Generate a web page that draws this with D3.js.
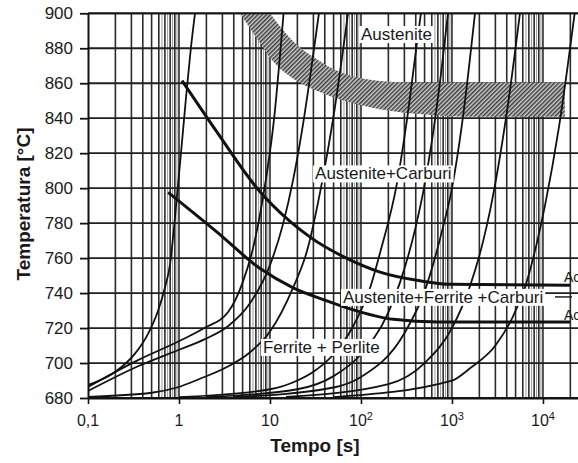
<!DOCTYPE html>
<html>
<head>
<meta charset="utf-8">
<script src="https://cdn.jsdelivr.net/npm/d3@7"></script>
<style>
body { margin: 0; background: #fff; }
text { font-family: "Liberation Sans", Arial, sans-serif; fill: #1a1a1a; }
</style>
</head>
<body>
<svg id="chart"></svg>
<script>
// values: time [s], temperature [°C]
var tempTicks = [680, 700, 720, 740, 760, 780, 800, 820, 840, 860, 880, 900];
var timeTicks = [0.1, 1, 10, 100, 1000, 10000];
var timeTickBase = ["0,1", "1", "10", "10", "10", "10"];
var timeTickExp = ["", "", "", "2", "3", "4"];

// heating curves (time, temperature)
var heat1 = [[0.1, 687.4], [0.2, 695], [0.33, 705.5], [0.46, 717], [0.59, 730], [0.7, 743], [0.8, 757], [0.88, 777], [0.96, 798], [1.06, 822], [1.2, 853], [1.35, 880], [1.5, 900]];
var heat2 = [[0.1, 686.3], [0.35, 701.5], [1.05, 713], [1.9, 720], [3.45, 729], [5, 746], [6.6, 767], [8.4, 795], [11, 838], [14.1, 900]];
var heat3 = [[0.1, 684], [0.35, 698], [1.05, 708], [1.9, 713.5], [3.45, 721], [6, 734], [10, 756], [14, 780], [18, 805], [22.5, 833], [28, 866], [34.5, 900]];
var heat4 = [[0.1, 680.7], [0.5, 683], [0.95, 686], [1.7, 691], [3.45, 698], [6, 706], [10, 718], [17.9, 743], [25.5, 764], [37.2, 803], [49.2, 839], [72, 900]];
var heat5 = [[1, 680.5], [10, 685], [20, 690], [30, 695], [50, 705], [80, 720], [126, 743], [162, 763], [249, 803], [320, 839], [412, 883], [456, 900]];
var heat6 = [[2, 680.5], [20, 685], [50, 692.5], [100, 705], [200, 729], [268, 746], [400, 778], [492, 800], [618, 831], [760, 866], [904, 900]];
var heat7 = [[4, 680.5], [50, 686], [100, 692], [300, 717], [500, 741], [800, 778], [975, 797], [1300, 838], [1791, 900]];
var heat8 = [[15, 680.6], [200, 688], [500, 700], [1000, 720], [1578, 744], [2208, 770], [2618, 787], [4000, 843], [5585, 900]];
var heat9 = [[50, 680.5], [1000, 690], [1578, 697], [3000, 710], [4720, 727], [6500, 745], [8510, 768], [10520, 790], [15000, 835], [22300, 900]];

// Ac3 and Ac1 boundaries
var ac3Curve = [[1.08, 861.5], [2.62, 832], [7.2, 800], [16.6, 781], [27.6, 772], [75.7, 759], [162, 752], [445, 747], [951, 745], [19800, 744.5]];
var ac1Curve = [[0.76, 797.6], [2.6, 775], [7.8, 754], [18, 743], [40, 736], [76, 731], [226, 725], [700, 723.5], [19800, 723.5]];

// hatched band: upper (right) edge and lower (left) edge
var bandUpper = [[10.0, 900], [17.4, 884.7], [33.7, 873.3], [58.7, 866.4], [125.6, 862], [345, 860.4], [17400, 860.4]];
var bandLower = [[4.68, 900], [7.38, 884.7], [10.5, 873.3], [18.8, 862], [35.4, 855], [66.7, 849.8], [161.8, 845.2], [445, 842.4], [1578, 840.9], [17400, 840.9]];

var phaseNames = ["Austenite", "Austenite+Carburi", "Austenite+Ferrite +Carburi", "Ferrite + Perlite"];

var width = 578;
var height = 463;
var plotLeft = 88, plotRight = 578, plotTop = 13.3, plotBottom = 398;

var xScale = d3.scaleLog().domain([0.1, 24270]).range([plotLeft, plotRight]);
var yScale = d3.scaleLinear().domain([680, 900]).range([plotBottom, plotTop]);

var svg = d3.select("#chart")
  .attr("width", width)
  .attr("height", height);

svg.append("rect").attr("width", width).attr("height", height).attr("fill", "#fff");

var defs = svg.append("defs");
defs.append("clipPath").attr("id", "plotClip")
  .append("rect")
  .attr("x", plotLeft).attr("y", plotTop)
  .attr("width", plotRight - plotLeft).attr("height", plotBottom - plotTop);

// hatch for the band
var hatch = defs.append("pattern")
  .attr("id", "hatch")
  .attr("width", 3).attr("height", 3)
  .attr("patternUnits", "userSpaceOnUse")
  .attr("patternTransform", "rotate(45)");
hatch.append("rect").attr("width", 3).attr("height", 3).attr("fill", "#d0d0d0");
hatch.append("line")
  .attr("x1", 0.75).attr("y1", 0).attr("x2", 0.75).attr("y2", 3)
  .attr("stroke", "#3a3a3a").attr("stroke-width", 1.5);

var plot = svg.append("g").attr("clip-path", "url(#plotClip)");

// vertical grid, 1..9 per decade
plot.selectAll(".vgrid")
  .data(xScale.ticks())
  .enter().append("line")
  .attr("class", "vgrid")
  .attr("x1", function(d) { return xScale(d); })
  .attr("x2", function(d) { return xScale(d); })
  .attr("y1", plotTop).attr("y2", plotBottom)
  .attr("stroke", "#2b2b2b")
  .attr("stroke-width", 1.6);

// the scan shows extra faint lines just before each decade
var faint = [];
timeTicks.forEach(function(d) {
  [0.65, 0.75, 0.85, 0.95].forEach(function(m) { faint.push(d * 10 * m); });
});
plot.selectAll(".fgrid")
  .data(faint)
  .enter().append("line")
  .attr("class", "fgrid")
  .attr("x1", function(d) { return xScale(d); })
  .attr("x2", function(d) { return xScale(d); })
  .attr("y1", plotTop).attr("y2", plotBottom)
  .attr("stroke", "#9a9a9a")
  .attr("stroke-width", 1);

// horizontal grid
plot.selectAll(".hgrid")
  .data(tempTicks)
  .enter().append("line")
  .attr("class", "hgrid")
  .attr("x1", plotLeft).attr("x2", plotRight)
  .attr("y1", function(d) { return yScale(d); })
  .attr("y2", function(d) { return yScale(d); })
  .attr("stroke", "#1f1f1f")
  .attr("stroke-width", 1.8);

// hatched band
var bandLine = d3.line()
  .x(function(d) { return xScale(d[0]); })
  .y(function(d) { return yScale(d[1]); })
  .curve(d3.curveMonotoneX);
var upperPath = bandLine(bandUpper);
var lowerPath = bandLine(bandLower.slice().reverse());
plot.append("path")
  .attr("d", upperPath + "L" + lowerPath.slice(1) + "Z")
  .attr("fill", "url(#hatch)")
  .attr("stroke", "none");

var curveLine = d3.line()
  .x(function(d) { return xScale(d[0]); })
  .y(function(d) { return yScale(d[1]); })
  .curve(d3.curveMonotoneX);

// heating curves
plot.selectAll(".heat")
  .data([heat1, heat2, heat3, heat4, heat5, heat6, heat7, heat8, heat9])
  .enter().append("path")
  .attr("class", "heat")
  .attr("d", curveLine)
  .attr("fill", "none")
  .attr("stroke", "#111")
  .attr("stroke-width", 1.8);

// Ac lines
plot.selectAll(".ac")
  .data([ac3Curve, ac1Curve])
  .enter().append("path")
  .attr("class", "ac")
  .attr("d", curveLine)
  .attr("fill", "none")
  .attr("stroke", "#111")
  .attr("stroke-width", 3);

// small leader next to Carburi
plot.append("line")
  .attr("x1", xScale(13550)).attr("x2", xScale(20850))
  .attr("y1", yScale(737.8)).attr("y2", yScale(737.8))
  .attr("stroke", "#222").attr("stroke-width", 1.5);

// phase labels on white boxes
function addLabel(txt, t, T) {
  var g = svg.append("g");
  var el = g.append("text")
    .attr("x", xScale(t))
    .attr("y", yScale(T))
    .style("font-size", "17px")
    .text(txt);
  var bb = el.node().getBBox();
  g.insert("rect", "text")
    .attr("x", bb.x - 2).attr("y", bb.y + 1)
    .attr("width", bb.width + 4).attr("height", bb.height - 2)
    .attr("fill", "#fff");
}
addLabel(phaseNames[0], 100, 884.7);
addLabel(phaseNames[1], 31.3, 805);
addLabel(phaseNames[2], 63.4, 734.4);
addLabel(phaseNames[3], 8.37, 705.8);

// Ac labels (cut at the edge, as in the scan)
var acNames = [["Ac", "3", 746.4], ["Ac", "1", 724.5]];
acNames.forEach(function(a) {
  var tx = svg.append("text")
    .attr("x", 564).attr("y", yScale(a[2]))
    .style("font-size", "14px")
    .text(a[0]);
  tx.append("tspan").attr("dy", 3).style("font-size", "10px").text(a[1]);
});

// frame line on top
svg.append("line").attr("x1", plotLeft).attr("x2", plotRight).attr("y1", plotTop).attr("y2", plotTop)
  .attr("stroke", "#111").attr("stroke-width", 2);

// y axis
var yAxis = svg.append("g")
  .attr("transform", "translate(" + plotLeft + ",0)")
  .call(d3.axisLeft(yScale).tickValues(tempTicks).tickSize(8).tickPadding(7).tickSizeOuter(0));
yAxis.select(".domain").attr("stroke", "#111").attr("stroke-width", 2);
yAxis.selectAll(".tick line").attr("stroke", "#111").attr("stroke-width", 1.8);
yAxis.selectAll(".tick text")
  .style("font-family", "'Liberation Sans', Arial, sans-serif")
  .style("font-size", "17px")
  .attr("fill", "#1a1a1a");

// x axis
var xAxis = svg.append("g")
  .attr("transform", "translate(0," + plotBottom + ")")
  .call(d3.axisBottom(xScale).tickValues(timeTicks).tickSize(6).tickFormat("").tickSizeOuter(0));
xAxis.select(".domain").attr("stroke", "#111").attr("stroke-width", 2.2);
xAxis.selectAll(".tick line").attr("stroke", "#111").attr("stroke-width", 1.6);

var xl = svg.selectAll(".xlab")
  .data(timeTicks)
  .enter().append("text")
  .attr("class", "xlab")
  .attr("x", function(d) { return xScale(d); })
  .attr("y", 426)
  .attr("text-anchor", "middle")
  .style("font-size", "16px");
xl.append("tspan").text(function(d, i) { return timeTickBase[i]; });
xl.append("tspan")
  .attr("dy", -6)
  .style("font-size", "11px")
  .text(function(d, i) { return timeTickExp[i]; });

// axis titles
svg.append("text")
  .attr("transform", "translate(30,204) rotate(-90)")
  .attr("text-anchor", "middle")
  .style("font-weight", "bold")
  .style("font-size", "19px")
  .text("Temperatura [°C]");

svg.append("text")
  .attr("x", 315).attr("y", 452)
  .attr("text-anchor", "middle")
  .style("font-weight", "bold")
  .style("font-size", "19px")
  .text("Tempo [s]");
</script>
</body>
</html>
